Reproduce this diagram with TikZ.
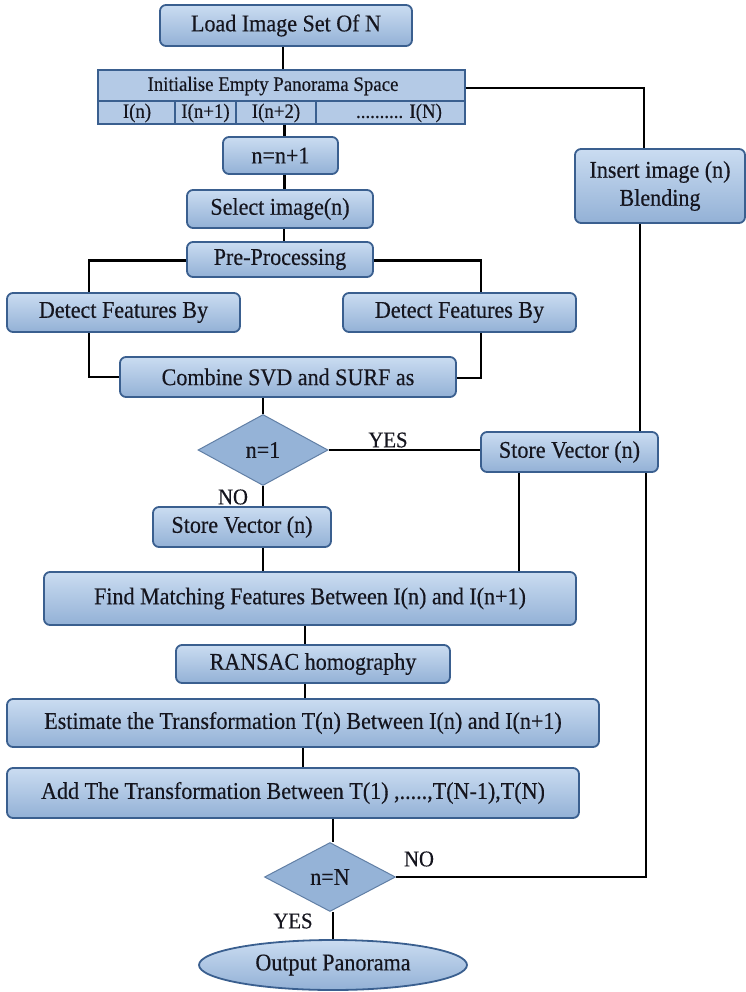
\documentclass[tikz,border=0pt]{standalone}
\usepackage{fontspec}
\setmainfont{Liberation Serif}[FakeStretch=0.92, FakeBold=0.35]
\usetikzlibrary{shapes.geometric,calc}
\definecolor{bfillA}{HTML}{CADCF1}
\definecolor{bfillB}{HTML}{93B1D6}
\definecolor{bdraw}{HTML}{3A5F8F}
\definecolor{dfill}{HTML}{95B3D7}
\definecolor{ifill}{HTML}{B4CAE6}
\definecolor{txt}{HTML}{15151E}
\tikzset{
  box/.style={draw=bdraw, line width=1.8pt, rounded corners=6pt, top color=bfillA, bottom color=bfillB,
    inner sep=0pt, align=center, text=txt, font=\fontsize{24}{26}\selectfont},
  initbox/.style={draw=bdraw, line width=1.8pt, fill=ifill, inner sep=0pt},
  dec/.style={diamond, draw=bdraw!80, line width=1pt, fill=dfill, inner sep=0pt, text=txt,
    font=\fontsize{24}{26}\selectfont},
  term/.style={ellipse, draw=bdraw, line width=1.8pt, top color=bfillA, bottom color=bfillB,
    inner sep=0pt, text=txt, font=\fontsize{24}{26}\selectfont},
  small/.style={text=txt, inner sep=0pt, font=\fontsize{20.5}{22}\selectfont},
  lbl/.style={text=txt, inner sep=0pt, font=\fontsize{22.5}{24}\selectfont},
  conn/.style={line width=2.4pt, black}
}
\begin{document}
\begin{tikzpicture}[x=1pt,y=1pt]
\useasboundingbox (0,0) rectangle (746,-992);

% nodes
\node[box, minimum width=252pt, minimum height=41pt] (load) at (286,-25.5) {Load Image Set Of N};

\node[initbox, minimum width=367pt, minimum height=54pt] (init) at (281.5,-97) {};
\coordinate (divL) at (98,-101);
\coordinate (divR) at (465,-101);
\draw[bdraw, line width=1.5pt] (divL) -- (divR);
\draw[bdraw, line width=1.5pt] (175,-101) -- (175,-124) (236,-101) -- (236,-124) (316,-101) -- (316,-124);
\node[small] (initT) at (273,-86) {Initialise Empty Panorama Space};
\node[small] (c1) at (137,-113) {I(n)};
\node[small] (c2) at (205.5,-113) {I(n+1)};
\node[small] (c3) at (276,-113) {I(n+2)};
\node[small] (c4) at (399,-113) {.......... I(N)};

\node[box, minimum width=115pt, minimum height=37pt] (nn1) at (280.5,-155.5) {n=n+1};
\node[box, minimum width=186pt, minimum height=38pt] (select) at (280,-209) {Select image(n)};
\node[box, minimum width=186pt, minimum height=35pt] (pre) at (280,-259.5) {Pre-Processing};
\node[box, minimum width=233pt, minimum height=39pt] (detL) at (123.5,-312.5) {Detect Features By};
\node[box, minimum width=233pt, minimum height=39pt] (detR) at (459.5,-312.5) {Detect Features By};
\node[box, minimum width=336pt, minimum height=40pt] (comb) at (288,-377) {Combine SVD and SURF as};
\node[dec, minimum width=130pt, minimum height=71pt] (d1) at (263,-450) {n=1};
\node[box, minimum width=177pt, minimum height=40pt] (svR) at (569.5,-452) {Store Vector (n)};
\node[box, minimum width=170pt, minimum height=74pt] (ins) at (660,-186) {Insert image (n)\\[2pt]Blending};
\node[box, minimum width=178pt, minimum height=40pt] (svL) at (242,-527) {Store Vector (n)};
\node[box, minimum width=532pt, minimum height=53pt] (find) at (310,-598.5) {Find Matching Features Between I(n) and I(n+1)};
\node[box, minimum width=274pt, minimum height=38pt] (ransac) at (313,-664) {RANSAC homography};
\node[box, minimum width=592pt, minimum height=48pt] (est) at (303,-723) {Estimate the Transformation T(n) Between I(n) and I(n+1)};
\node[box, minimum width=572pt, minimum height=50pt] (add) at (293,-793) {Add The Transformation Between  T(1)  ,.....,T(N-1),T(N)};
\node[dec, minimum width=131pt, minimum height=69pt] (dN) at (330,-877) {n=N};
\node[term, minimum width=268pt, minimum height=50pt] (out) at (333,-965) {Output Panorama};

% labels
\node[lbl] (yes1) at (388,-440) {YES};
\node[lbl] (no1) at (233,-497) {NO};
\node[lbl] (no2) at (419,-859) {NO};
\node[lbl] (yes2) at (293,-921) {YES};

% connectors
\draw[conn] ([xshift=-3pt]load.south) -- ([xshift=-3pt]load.south |- init.north);
\draw[conn] ([xshift=4pt]nn1.north |- init.south) -- ([xshift=4pt]nn1.north);
\draw[conn] ([xshift=4pt]nn1.south) -- ([xshift=4pt]nn1.south |- select.north);
\draw[conn] ([xshift=4pt]select.south) -- ([xshift=4pt]select.south |- pre.north);
\draw[conn] ([yshift=-1pt]pre.west) -| ([xshift=-34.5pt]detL.north);
\draw[conn] ([yshift=-1pt]pre.east) -| ([xshift=21.5pt]detR.north);
\draw[conn] ([xshift=-34.5pt]detL.south) |- (comb.west);
\draw[conn] ([xshift=21.5pt]detR.south) |- ([yshift=-1pt]comb.east);
\draw[conn] (d1.north |- comb.south) -- (d1.north);
\draw[conn] (d1.east) -- (d1.east -| svR.west);
\draw[conn] (d1.south) -- (d1.south |- svL.north);
\draw[conn] (d1.south |- svL.south) -- (d1.south |- find.north);
\draw[conn] ([xshift=-50.5pt]svR.south) -- ([xshift=-50.5pt]svR.south |- find.north);
\draw[conn] ([yshift=9pt]init.east) -| ([xshift=-16pt]ins.north);
\draw[conn] ([xshift=-20pt]ins.south) -- ([xshift=-20pt]ins.south |- svR.north);
\draw[conn] ([xshift=-5pt]find.south) -- ([xshift=-5pt]find.south |- ransac.north);
\draw[conn] ([xshift=-5pt]find.south |- ransac.south) -- ([xshift=-5pt]find.south |- est.north);
\draw[conn] (est.south) -- (est.south |- add.north);
\draw[conn] ([xshift=3pt]dN.north |- add.south) -- ([xshift=3pt]dN.north);
\draw[conn] (dN.east) -| ([xshift=76.5pt]svR.south);
\draw[conn] ([xshift=3pt]dN.south) -- ([xshift=3pt]dN.south |- out.north);
\end{tikzpicture}
\end{document}
